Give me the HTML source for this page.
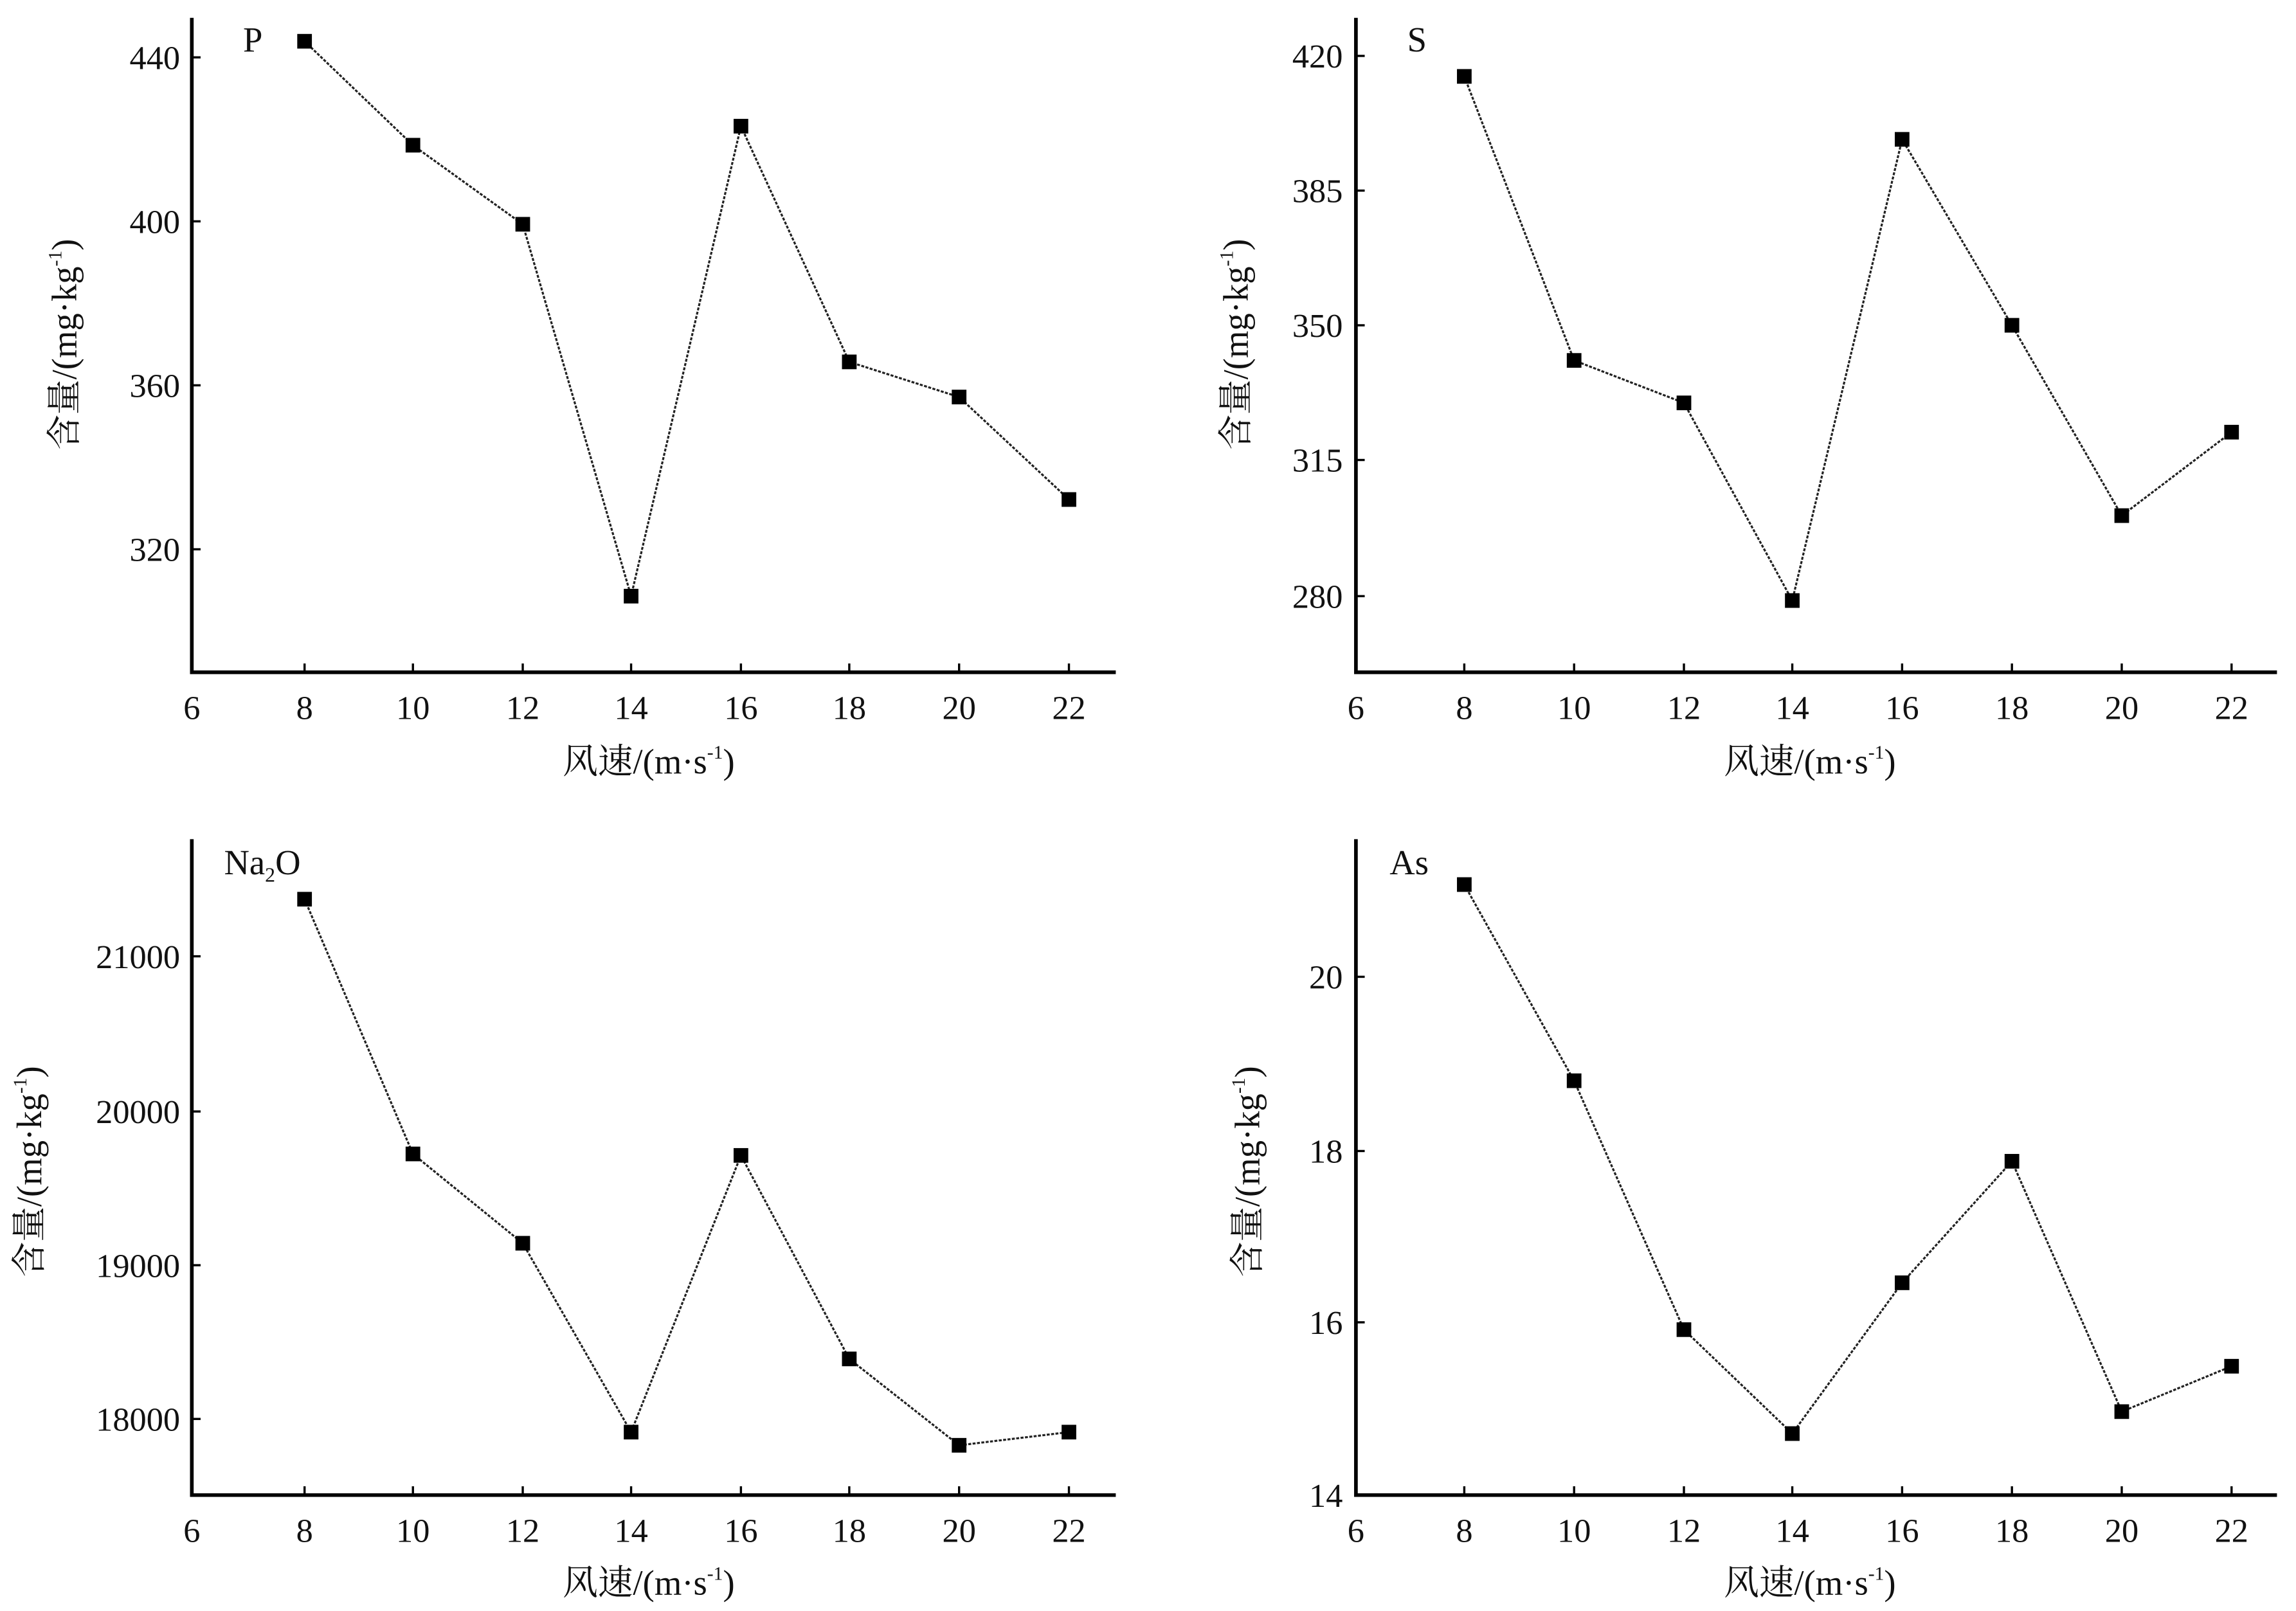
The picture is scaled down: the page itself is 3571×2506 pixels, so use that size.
<!DOCTYPE html>
<html><head><meta charset="utf-8"><style>
html,body{margin:0;padding:0;background:#fff;}
svg{display:block;}
text{font-family:"Liberation Serif","Noto Serif CJK SC",serif;fill:#111;}
</style></head><body>
<svg width="3571" height="2506" viewBox="0 0 1568 1100" xmlns="http://www.w3.org/2000/svg">

<!-- Panel P -->
<g>
<path d="M131,12 V459 H762" fill="none" stroke="#000" stroke-width="2.5"/>
<g stroke="#000" stroke-width="1.5">
<line x1="131" y1="39" x2="137" y2="39"/><line x1="131" y1="151" x2="137" y2="151"/><line x1="131" y1="263" x2="137" y2="263"/><line x1="131" y1="375" x2="137" y2="375"/>
<line x1="208" y1="459" x2="208" y2="453"/><line x1="282" y1="459" x2="282" y2="453"/><line x1="357" y1="459" x2="357" y2="453"/><line x1="431" y1="459" x2="431" y2="453"/><line x1="506" y1="459" x2="506" y2="453"/><line x1="580" y1="459" x2="580" y2="453"/><line x1="655" y1="459" x2="655" y2="453"/><line x1="730" y1="459" x2="730" y2="453"/>
</g>
<g font-size="23" text-anchor="end"><text x="123" y="47">440</text><text x="123" y="159">400</text><text x="123" y="271">360</text><text x="123" y="383">320</text></g>
<g font-size="23" text-anchor="middle"><text x="131" y="491">6</text><text x="208" y="491">8</text><text x="282" y="491">10</text><text x="357" y="491">12</text><text x="431" y="491">14</text><text x="506" y="491">16</text><text x="580" y="491">18</text><text x="655" y="491">20</text><text x="730" y="491">22</text></g>
<polyline points="208,28 282,99 357,153 431,407 506,86 580,247 655,271 730,341" fill="none" stroke="#222" stroke-width="1.4" stroke-dasharray="2,1"/>
<g fill="#000"><rect x="203" y="23" width="10" height="10"/><rect x="277" y="94" width="10" height="10"/><rect x="352" y="148" width="10" height="10"/><rect x="426" y="402" width="10" height="10"/><rect x="501" y="81" width="10" height="10"/><rect x="575" y="242" width="10" height="10"/><rect x="650" y="266" width="10" height="10"/><rect x="725" y="336" width="10" height="10"/></g>
<text x="166" y="35" font-size="24">P</text>
<text x="443" y="528" font-size="24" text-anchor="middle">风速/(m·s<tspan font-size="13" dy="-10">-1</tspan><tspan dy="10">)</tspan></text>
<text transform="translate(52,235) rotate(-90)" font-size="24" text-anchor="middle">含量/(mg·kg<tspan font-size="13" dy="-10">-1</tspan><tspan dy="10">)</tspan></text>
</g>

<!-- Panel S -->
<g>
<path d="M926,12 V459 H1555" fill="none" stroke="#000" stroke-width="2.5"/>
<g stroke="#000" stroke-width="1.5">
<line x1="926" y1="38" x2="932" y2="38"/><line x1="926" y1="130" x2="932" y2="130"/><line x1="926" y1="222" x2="932" y2="222"/><line x1="926" y1="314" x2="932" y2="314"/><line x1="926" y1="407" x2="932" y2="407"/>
<line x1="1000" y1="459" x2="1000" y2="453"/><line x1="1075" y1="459" x2="1075" y2="453"/><line x1="1150" y1="459" x2="1150" y2="453"/><line x1="1224" y1="459" x2="1224" y2="453"/><line x1="1299" y1="459" x2="1299" y2="453"/><line x1="1374" y1="459" x2="1374" y2="453"/><line x1="1449" y1="459" x2="1449" y2="453"/><line x1="1524" y1="459" x2="1524" y2="453"/>
</g>
<g font-size="23" text-anchor="end"><text x="917" y="46">420</text><text x="917" y="138">385</text><text x="917" y="230">350</text><text x="917" y="322">315</text><text x="917" y="415">280</text></g>
<g font-size="23" text-anchor="middle"><text x="926" y="491">6</text><text x="1000" y="491">8</text><text x="1075" y="491">10</text><text x="1150" y="491">12</text><text x="1224" y="491">14</text><text x="1299" y="491">16</text><text x="1374" y="491">18</text><text x="1449" y="491">20</text><text x="1524" y="491">22</text></g>
<polyline points="1000,52 1075,246 1150,275 1224,410 1299,95 1374,222 1449,352 1524,295" fill="none" stroke="#222" stroke-width="1.4" stroke-dasharray="2,1"/>
<g fill="#000"><rect x="995" y="47" width="10" height="10"/><rect x="1070" y="241" width="10" height="10"/><rect x="1145" y="270" width="10" height="10"/><rect x="1219" y="405" width="10" height="10"/><rect x="1294" y="90" width="10" height="10"/><rect x="1369" y="217" width="10" height="10"/><rect x="1444" y="347" width="10" height="10"/><rect x="1519" y="290" width="10" height="10"/></g>
<text x="961" y="35" font-size="24">S</text>
<text x="1236" y="528" font-size="24" text-anchor="middle">风速/(m·s<tspan font-size="13" dy="-10">-1</tspan><tspan dy="10">)</tspan></text>
<text transform="translate(852,235) rotate(-90)" font-size="24" text-anchor="middle">含量/(mg·kg<tspan font-size="13" dy="-10">-1</tspan><tspan dy="10">)</tspan></text>
</g>

<!-- Panel Na2O -->
<g>
<path d="M131,573 V1021 H762" fill="none" stroke="#000" stroke-width="2.5"/>
<g stroke="#000" stroke-width="1.5">
<line x1="131" y1="653" x2="137" y2="653"/><line x1="131" y1="759" x2="137" y2="759"/><line x1="131" y1="864" x2="137" y2="864"/><line x1="131" y1="969" x2="137" y2="969"/>
<line x1="208" y1="1021" x2="208" y2="1015"/><line x1="282" y1="1021" x2="282" y2="1015"/><line x1="357" y1="1021" x2="357" y2="1015"/><line x1="431" y1="1021" x2="431" y2="1015"/><line x1="506" y1="1021" x2="506" y2="1015"/><line x1="580" y1="1021" x2="580" y2="1015"/><line x1="655" y1="1021" x2="655" y2="1015"/><line x1="730" y1="1021" x2="730" y2="1015"/>
</g>
<g font-size="23" text-anchor="end"><text x="123" y="661">21000</text><text x="123" y="767">20000</text><text x="123" y="872">19000</text><text x="123" y="977">18000</text></g>
<g font-size="23" text-anchor="middle"><text x="131" y="1053">6</text><text x="208" y="1053">8</text><text x="282" y="1053">10</text><text x="357" y="1053">12</text><text x="431" y="1053">14</text><text x="506" y="1053">16</text><text x="580" y="1053">18</text><text x="655" y="1053">20</text><text x="730" y="1053">22</text></g>
<polyline points="208,614 282,788 357,849 431,978 506,789 580,928 655,987 730,978" fill="none" stroke="#222" stroke-width="1.4" stroke-dasharray="2,1"/>
<g fill="#000"><rect x="203" y="609" width="10" height="10"/><rect x="277" y="783" width="10" height="10"/><rect x="352" y="844" width="10" height="10"/><rect x="426" y="973" width="10" height="10"/><rect x="501" y="784" width="10" height="10"/><rect x="575" y="923" width="10" height="10"/><rect x="650" y="982" width="10" height="10"/><rect x="725" y="973" width="10" height="10"/></g>
<text x="153" y="597" font-size="24">Na<tspan font-size="14" dy="5">2</tspan><tspan dy="-5">O</tspan></text>
<text x="443" y="1089" font-size="24" text-anchor="middle">风速/(m·s<tspan font-size="13" dy="-10">-1</tspan><tspan dy="10">)</tspan></text>
<text transform="translate(28,800) rotate(-90)" font-size="24" text-anchor="middle">含量/(mg·kg<tspan font-size="13" dy="-10">-1</tspan><tspan dy="10">)</tspan></text>
</g>

<!-- Panel As -->
<g>
<path d="M926,573 V1021 H1555" fill="none" stroke="#000" stroke-width="2.5"/>
<g stroke="#000" stroke-width="1.5">
<line x1="926" y1="667" x2="932" y2="667"/><line x1="926" y1="786" x2="932" y2="786"/><line x1="926" y1="903" x2="932" y2="903"/>
<line x1="1000" y1="1021" x2="1000" y2="1015"/><line x1="1075" y1="1021" x2="1075" y2="1015"/><line x1="1150" y1="1021" x2="1150" y2="1015"/><line x1="1224" y1="1021" x2="1224" y2="1015"/><line x1="1299" y1="1021" x2="1299" y2="1015"/><line x1="1374" y1="1021" x2="1374" y2="1015"/><line x1="1449" y1="1021" x2="1449" y2="1015"/><line x1="1524" y1="1021" x2="1524" y2="1015"/>
</g>
<g font-size="23" text-anchor="end"><text x="917" y="675">20</text><text x="917" y="794">18</text><text x="917" y="911">16</text><text x="917" y="1029">14</text></g>
<g font-size="23" text-anchor="middle"><text x="926" y="1053">6</text><text x="1000" y="1053">8</text><text x="1075" y="1053">10</text><text x="1150" y="1053">12</text><text x="1224" y="1053">14</text><text x="1299" y="1053">16</text><text x="1374" y="1053">18</text><text x="1449" y="1053">20</text><text x="1524" y="1053">22</text></g>
<polyline points="1000,604 1075,738 1150,908 1224,979 1299,876 1374,793 1449,964 1524,933" fill="none" stroke="#222" stroke-width="1.4" stroke-dasharray="2,1"/>
<g fill="#000"><rect x="995" y="599" width="10" height="10"/><rect x="1070" y="733" width="10" height="10"/><rect x="1145" y="903" width="10" height="10"/><rect x="1219" y="974" width="10" height="10"/><rect x="1294" y="871" width="10" height="10"/><rect x="1369" y="788" width="10" height="10"/><rect x="1444" y="959" width="10" height="10"/><rect x="1519" y="928" width="10" height="10"/></g>
<text x="949" y="597" font-size="24">As</text>
<text x="1236" y="1089" font-size="24" text-anchor="middle">风速/(m·s<tspan font-size="13" dy="-10">-1</tspan><tspan dy="10">)</tspan></text>
<text transform="translate(860,800) rotate(-90)" font-size="24" text-anchor="middle">含量/(mg·kg<tspan font-size="13" dy="-10">-1</tspan><tspan dy="10">)</tspan></text>
</g>
</svg>
</body></html>
